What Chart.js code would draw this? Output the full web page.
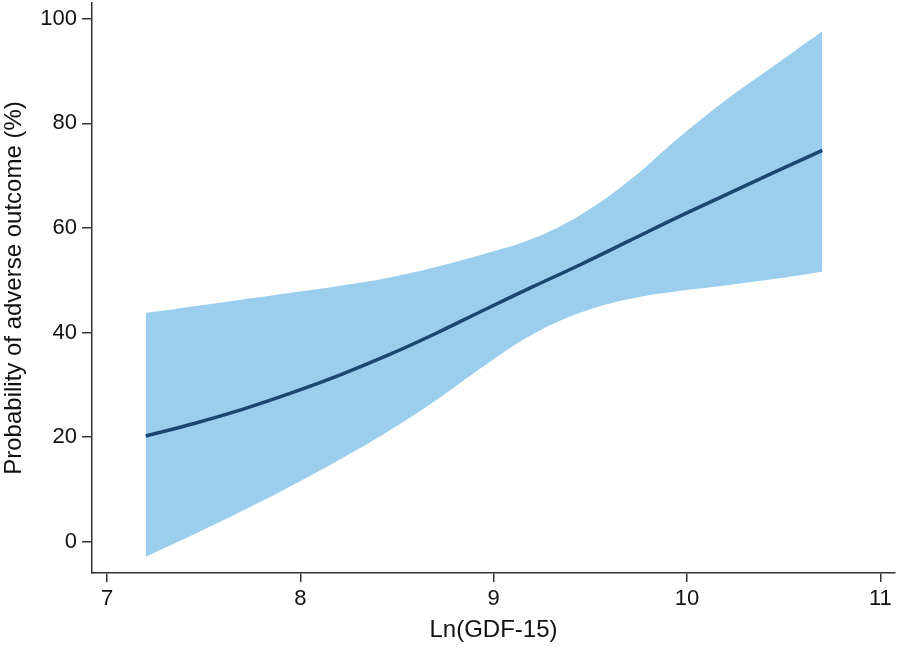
<!DOCTYPE html>
<html>
<head>
<meta charset="utf-8">
<script src="https://cdn.jsdelivr.net/npm/chart.js@4/dist/chart.umd.min.js"></script>
<style>
  html, body { margin: 0; padding: 0; background: #fff; }
  #wrap { width: 898px; height: 649px; }
</style>
</head>
<body>
<div id="wrap"><canvas id="chart"></canvas></div>
<script>
// Ln(GDF-15) values and fitted probability (%) with 95% CI
const xs = [7.2, 7.45, 7.7, 7.95, 8.2, 8.45, 8.7, 8.95, 9.2, 9.45, 9.7, 9.95, 10.2, 10.45, 10.7];
const fit = [20.2, 22.6, 25.3, 28.4, 31.8, 35.6, 39.8, 44.3, 48.7, 53.0, 57.5, 62.0, 66.3, 70.6, 74.8];
const upper = [43.7, 45.0, 46.3, 47.6, 48.9, 50.4, 52.5, 55.0, 57.9, 62.5, 69.0, 77.0, 84.4, 91.0, 97.6];
const lower = [-2.9, 1.4, 5.9, 10.6, 15.6, 21.0, 27.0, 33.6, 39.6, 43.8, 46.4, 47.9, 49.0, 50.2, 51.6];
const xTicks = [7, 8, 9, 10, 11];
const yTicks = [0, 20, 40, 60, 80, 100];

const pts = (ys) => xs.map((x, i) => ({ x: x, y: ys[i] }));

const tickFont = { family: "'Liberation Sans', Arial, sans-serif", size: 22 };
const titleFont = { family: "'Liberation Sans', Arial, sans-serif", size: 24 };

new Chart(document.getElementById("chart"), {
  type: "line",
  data: {
    datasets: [
      {
        label: "fit",
        data: pts(fit),
        borderColor: "#1a4670",
        borderWidth: 3.5,
        pointRadius: 0,
        fill: false,
        tension: 0.4,
        order: 0,
      },
      {
        label: "upper",
        data: pts(upper),
        borderWidth: 0,
        borderColor: "rgba(0,0,0,0)",
        backgroundColor: "#9bceed",
        pointRadius: 0,
        fill: "+1",
        tension: 0.4,
        order: 1,
      },
      {
        label: "lower",
        data: pts(lower),
        borderWidth: 0,
        borderColor: "rgba(0,0,0,0)",
        pointRadius: 0,
        fill: false,
        tension: 0.4,
        order: 1,
      },
    ],
  },
  options: {
    responsive: true,
    maintainAspectRatio: false,
    animation: false,
    layout: { padding: { top: 3, right: 3, bottom: 0, left: 0 } },
    plugins: { legend: { display: false }, tooltip: { enabled: false } },
    scales: {
      x: {
        type: "linear",
        min: 6.922,
        max: 11.076,
        afterBuildTicks: (s) => { s.ticks = xTicks.map((v) => ({ value: v })); },
        afterFit: (s) => { s.height = 76; s.paddingLeft = 0; s.paddingRight = 0; },
        border: { color: "#333", width: 1.5 },
        grid: { drawOnChartArea: false, drawTicks: true, tickLength: 9, color: "#333", lineWidth: 1.5 },
        ticks: { color: "#111", font: tickFont, padding: 4, maxRotation: 0 },
        title: { display: true, text: "Ln(GDF-15)", color: "#111", font: titleFont, padding: { top: 0, bottom: 4 } },
      },
      y: {
        min: -6,
        max: 103,
        afterBuildTicks: (s) => { s.ticks = yTicks.map((v) => ({ value: v })); },
        afterFit: (s) => { s.width = 92; s.paddingTop = 0; s.paddingBottom = 0; },
        border: { color: "#333", width: 1.5 },
        grid: { drawOnChartArea: false, drawTicks: true, tickLength: 10, color: "#333", lineWidth: 1.5 },
        ticks: { color: "#111", font: tickFont, padding: 5 },
        title: { display: true, text: "Probability of adverse outcome (%)", color: "#111", font: titleFont, padding: { top: 0, bottom: 0 } },
      },
    },
  },
});
</script>
</body>
</html>
